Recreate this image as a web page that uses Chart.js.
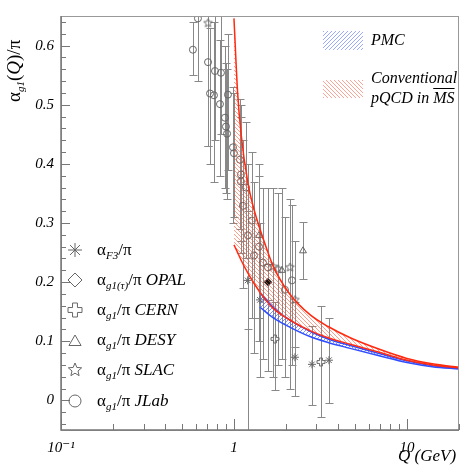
<!DOCTYPE html>
<html>
<head>
<meta charset="utf-8">
<script src="https://cdn.jsdelivr.net/npm/chart.js@4.4.0/dist/chart.umd.min.js"></script>
<style>
body { margin: 0; background: #fff; }
#wrap { position: relative; width: 469px; height: 469px; }
.t { position: absolute; font-family: "Liberation Serif", serif; color: #000; white-space: nowrap; line-height: 1; }
.t i { font-style: italic; }
.t sub { font-size: 11px; font-style: italic; vertical-align: -4px; }
.leg { font-size: 17px; left: 97px; }
.sw { position: absolute; left: 323px; width: 40px; }
#swBlue { top: 31px; height: 19px; background: repeating-linear-gradient(135deg, rgba(70,100,255,0.55) 0 0.9px, rgba(255,255,255,0) 0.9px 2.83px); }
#swRed { top: 80px; height: 18px; background: repeating-linear-gradient(45deg, rgba(255,90,60,0.55) 0 0.9px, rgba(255,255,255,0) 0.9px 2.83px); }
</style>
</head>
<body>
<div id="wrap">
<canvas id="myChart" width="469" height="469"></canvas>
<div class="sw" id="swBlue"></div>
<div class="sw" id="swRed"></div>
<div class="t" style="left:4px;top:102px;font-size:19px;transform:rotate(-90deg);transform-origin:0 0;">α<sub>g1</sub>(<i>Q</i>)/π</div>
<div class="t leg" style="top:241px">α<sub>F3</sub>/π</div>
<div class="t leg" style="top:271px">α<sub>g1(τ)</sub>/π <i>OPAL</i></div>
<div class="t leg" style="top:301px">α<sub>g1</sub>/π <i>CERN</i></div>
<div class="t leg" style="top:331px">α<sub>g1</sub>/π <i>DESY</i></div>
<div class="t leg" style="top:361px">α<sub>g1</sub>/π <i>SLAC</i></div>
<div class="t leg" style="top:392px">α<sub>g1</sub>/π <i>JLab</i></div>
<div class="t" style="left:371px;top:32px;font-size:16px;"><i>PMC</i></div>
<div class="t" style="left:371px;top:70px;font-size:16px;"><i>Conventional</i></div>
<div class="t" style="left:371px;top:90px;font-size:16px;"><i>pQCD in <span style="text-decoration:overline">MS</span></i></div>
<div class="t" style="left:398px;top:447px;font-size:17px;"><i>Q (GeV)</i></div>
</div>
<script>
// conventional pQCD band (red)
var convQ     = [1.0, 1.05, 1.1, 1.2, 1.3, 1.47, 1.68, 2.1, 2.75, 3.5, 4.7, 7, 10, 14, 20];
var convUpper = [0.646, 0.52, 0.45, 0.37, 0.325, 0.275, 0.228, 0.180, 0.145, 0.125, 0.106, 0.086, 0.071, 0.062, 0.056];
var convLower = [0.263, 0.25, 0.237, 0.216, 0.199, 0.176, 0.156, 0.136, 0.118, 0.106, 0.095, 0.081, 0.068, 0.060, 0.055];

// PMC band (blue)
var pmcQ     = [1.41, 1.68, 2.1, 2.75, 3.5, 4.7, 7, 10, 14, 20];
var pmcUpper = [0.183, 0.158, 0.136, 0.117, 0.104, 0.093, 0.079, 0.067, 0.059, 0.054];
var pmcLower = [0.158, 0.140, 0.124, 0.108, 0.098, 0.088, 0.075, 0.064, 0.057, 0.053];

// data points
var jlabQ   = [0.579, 0.619, 0.708, 0.727, 0.766, 0.777, 0.830, 0.841, 0.923, 0.887, 0.899, 0.912, 0.987, 1.0, 1.083, 1.097, 1.097, 1.173, 1.127, 1.270, 1.205, 1.305, 1.471, 1.972, 2.164, 1.396, 1.573];
var jlabVal = [0.593, 0.646, 0.572, 0.519, 0.516, 0.557, 0.501, 0.554, 0.517, 0.478, 0.463, 0.451, 0.428, 0.418, 0.407, 0.382, 0.370, 0.360, 0.329, 0.304, 0.279, 0.245, 0.233, 0.187, 0.203, 0.26, 0.225];
var jlabLo  = [0.55, 0.54, 0.43, 0.40, 0.37, 0.44, 0.38, 0.45, 0.39, 0.36, 0.35, 0.34, 0.30, 0.31, 0.29, 0.27, 0.25, 0.24, 0.19, 0.14, 0.12, 0.08, 0.07, 0.04, 0.06, 0.10, 0.05];
var jlabHi  = [0.64, 0.70, 0.68, 0.63, 0.64, 0.66, 0.61, 0.65, 0.62, 0.60, 0.57, 0.56, 0.53, 0.52, 0.51, 0.50, 0.48, 0.47, 0.44, 0.42, 0.40, 0.37, 0.36, 0.31, 0.33, 0.38, 0.36];

var f3Q   = [1.2, 1.413, 2.252, 2.825, 3.541];
var f3Val = [0.203, 0.17, 0.073, 0.061, 0.068];
var f3Lo  = [-0.10, 0.04, 0.007, -0.007, -0.005];
var f3Hi  = [0.32, 0.30, 0.167, 0.126, 0.14];

var opalQ   = [1.573];
var opalVal = [0.200];
var opalLo  = [0.17];
var opalHi  = [0.23];

var cernQ   = [1.726, 3.184];
var cernVal = [0.104, 0.065];
var cernLo  = [0.018, -0.028];
var cernHi  = [0.167, 0.159];

var desyQ   = [1.396, 1.894, 2.506];
var desyVal = [0.279, 0.220, 0.253];
var desyLo  = [0.14, 0.07, 0.205];
var desyHi  = [0.40, 0.36, 0.302];

var slacQ   = [0.708, 1.681, 2.108, 2.252, 1.800];
var slacVal = [0.638, 0.226, 0.225, 0.170, 0.222];
var slacLo  = [0.43, 0.04, 0.02, 0.09, 0.06];
var slacHi  = [0.70, 0.36, 0.34, 0.27, 0.35];

var xTicks = [0.1, 1, 10];
var yTicks = [0, 0.1, 0.2, 0.3, 0.4, 0.5, 0.6];

var serif = '"Liberation Serif", "DejaVu Serif", serif';
var markColor = '#666';

function pts(qs, vs) {
    return qs.map(function(q, i) { return {x: q, y: vs[i]}; });
}

function hatch(color, back) {
    var c = document.createElement('canvas');
    c.width = 4; c.height = 4;
    var g = c.getContext('2d');
    g.strokeStyle = color;
    g.lineWidth = 1;
    g.beginPath();
    if (back) {
        g.moveTo(-1, -1); g.lineTo(5, 5);
    } else {
        g.moveTo(-1, 5); g.lineTo(5, -1);
    }
    g.stroke();
    return c;
}

function starIcon(r) {
    var s = Math.ceil(r * 2 + 2);
    var c = document.createElement('canvas');
    c.width = s; c.height = s;
    var g = c.getContext('2d');
    g.strokeStyle = markColor; g.lineWidth = 1;
    g.beginPath();
    for (var k = 0; k < 10; k++) {
        var rr = k % 2 ? r * 0.45 : r;
        var a = -Math.PI / 2 + k * Math.PI / 5;
        var px = s / 2 + rr * Math.cos(a), py = s / 2 + rr * Math.sin(a);
        if (k == 0) g.moveTo(px, py); else g.lineTo(px, py);
    }
    g.closePath();
    g.stroke();
    return c;
}

function plusIcon(r) {
    var s = Math.ceil(r * 2 + 2);
    var c = document.createElement('canvas');
    c.width = s; c.height = s;
    var g = c.getContext('2d');
    g.strokeStyle = markColor; g.lineWidth = 1;
    var m = s / 2, w = r * 0.35;
    g.beginPath();
    g.moveTo(m - w, m - r); g.lineTo(m + w, m - r); g.lineTo(m + w, m - w); g.lineTo(m + r, m - w);
    g.lineTo(m + r, m + w); g.lineTo(m + w, m + w); g.lineTo(m + w, m + r); g.lineTo(m - w, m + r);
    g.lineTo(m - w, m + w); g.lineTo(m - r, m + w); g.lineTo(m - r, m - w); g.lineTo(m - w, m - w);
    g.closePath();
    g.stroke();
    return c;
}

var mainCtx = document.getElementById('myChart').getContext('2d');
var redHatch = mainCtx.createPattern(hatch('rgba(255,90,60,0.6)', true), 'repeat');
var blueHatch = mainCtx.createPattern(hatch('rgba(70,100,255,0.7)', false), 'repeat');

function series(qs, vs, lo, hi, style, radius, fill) {
    return {
        type: 'scatter',
        data: pts(qs, vs),
        errLo: lo,
        errHi: hi,
        pointStyle: style,
        pointRadius: radius,
        pointBorderColor: markColor,
        pointBackgroundColor: fill || 'rgba(0,0,0,0)',
        pointBorderWidth: 1
    };
}

var errorBars = {
    id: 'errorBars',
    beforeDatasetsDraw: function(chart) {
        var ctx = chart.ctx, a = chart.chartArea;
        var x = chart.scales.x, y = chart.scales.y;
        ctx.save();
        ctx.beginPath();
        ctx.rect(a.left, a.top, a.right - a.left, a.bottom - a.top);
        ctx.clip();
        ctx.strokeStyle = '#888';
        ctx.lineWidth = 1;
        chart.data.datasets.forEach(function(ds) {
            if (!ds.errLo) return;
            ds.data.forEach(function(p, i) {
                var px = Math.round(x.getPixelForValue(p.x)) + 0.5;
                var y1 = Math.round(y.getPixelForValue(ds.errLo[i])) + 0.5;
                var y2 = Math.round(y.getPixelForValue(ds.errHi[i])) + 0.5;
                ctx.beginPath();
                ctx.moveTo(px, y1); ctx.lineTo(px, y2);
                ctx.moveTo(px - 4, y1); ctx.lineTo(px + 4, y1);
                ctx.moveTo(px - 4, y2); ctx.lineTo(px + 4, y2);
                ctx.stroke();
            });
        });
        ctx.restore();
    }
};

var frame = {
    id: 'frame',
    afterDraw: function(chart) {
        var ctx = chart.ctx, a = chart.chartArea;
        var x = chart.scales.x, y = chart.scales.y;
        ctx.save();
        // frame
        ctx.strokeStyle = '#999';
        ctx.lineWidth = 1;
        ctx.strokeRect(a.left + 0.5, a.top + 0.5, a.right - a.left - 1, a.bottom - a.top);
        ctx.strokeStyle = '#777';
        ctx.lineWidth = 1.5;
        ctx.beginPath();
        ctx.moveTo(a.left, a.top); ctx.lineTo(a.left, a.bottom); ctx.lineTo(a.right, a.bottom);
        ctx.stroke();
        // y ticks
        ctx.lineWidth = 1;
        ctx.beginPath();
        for (var v = -0.04; v <= 0.65; v += 0.02) {
            var py = Math.round(y.getPixelForValue(v)) + 0.5;
            var major = Math.abs(v * 10 - Math.round(v * 10)) < 1e-6;
            ctx.moveTo(a.left, py); ctx.lineTo(a.left + (major ? 9 : 5), py);
        }
        // x ticks
        for (var d = 0.1; d < 20; d *= 10) {
            for (var k = 1; k < 10; k++) {
                var q = d * k;
                if (q > 20) break;
                var px = Math.round(x.getPixelForValue(q)) + 0.5;
                ctx.moveTo(px, a.bottom); ctx.lineTo(px, a.bottom - (k == 1 ? 11 : 6));
            }
        }
        ctx.stroke();

        // legend markers
        var draw = Chart.helpers.drawPoint;
        ctx.strokeStyle = markColor;
        ctx.fillStyle = 'rgba(0,0,0,0)';
        ctx.lineWidth = 1;
        draw(ctx, {pointStyle: 'star', radius: 7, rotation: 0, borderWidth: 1}, 75, 250);
        draw(ctx, {pointStyle: 'rectRot', radius: 7, rotation: 0, borderWidth: 1}, 75, 280);
        ctx.drawImage(plusIcon(7), 75 - 8, 310 - 8);
        draw(ctx, {pointStyle: 'triangle', radius: 7, rotation: 0, borderWidth: 1}, 75, 342);
        ctx.drawImage(starIcon(7), 75 - 8, 370 - 8);
        draw(ctx, {pointStyle: 'circle', radius: 6, rotation: 0, borderWidth: 1}, 75, 401);
        ctx.restore();
    }
};

var ctx = document.getElementById('myChart');
var myChart = new Chart(ctx, {
    type: 'line',
    data: {
        datasets: [
            {
                data: pts(convQ, convUpper),
                borderColor: '#ff2a10',
                borderWidth: 1.5,
                pointRadius: 0,
                cubicInterpolationMode: 'monotone',
                fill: '+1',
                backgroundColor: redHatch
            },
            {
                data: pts(convQ, convLower),
                borderColor: '#ff2a10',
                borderWidth: 1.5,
                pointRadius: 0,
                cubicInterpolationMode: 'monotone',
                fill: false
            },
            {
                data: pts(pmcQ, pmcUpper),
                borderColor: '#2f4dff',
                borderWidth: 1.5,
                pointRadius: 0,
                cubicInterpolationMode: 'monotone',
                fill: '+1',
                backgroundColor: blueHatch
            },
            {
                data: pts(pmcQ, pmcLower),
                borderColor: '#2f4dff',
                borderWidth: 1.5,
                pointRadius: 0,
                cubicInterpolationMode: 'monotone',
                fill: false
            },
            series(jlabQ, jlabVal, jlabLo, jlabHi, 'circle', 3.5),
            series(f3Q, f3Val, f3Lo, f3Hi, 'star', 4),
            series(opalQ, opalVal, opalLo, opalHi, 'rectRot', 4, '#111'),
            series(cernQ, cernVal, cernLo, cernHi, plusIcon(4)),
            series(desyQ, desyVal, desyLo, desyHi, 'triangle', 4),
            series(slacQ, slacVal, slacLo, slacHi, starIcon(4.5))
        ]
    },
    options: {
        responsive: false,
        animation: false,
        layout: { padding: { top: 7, right: 10, left: 0, bottom: 0 } },
        plugins: { legend: { display: false }, tooltip: { enabled: false } },
        scales: {
            x: {
                type: 'logarithmic',
                min: 0.1,
                max: 20,
                grid: { display: false, drawTicks: false },
                border: { display: false },
                afterBuildTicks: function(s) { s.ticks = xTicks.map(function(v) { return {value: v}; }); },
                afterFit: function(s) { s.height = 39; },
                ticks: {
                    autoSkip: false,
                    maxRotation: 0,
                    padding: 9,
                    color: '#000',
                    font: { family: serif, style: 'italic', size: 15 },
                    callback: function(v) { return v == 0.1 ? '10⁻¹' : String(v); }
                }
            },
            y: {
                min: -0.05,
                max: 0.65,
                grid: { display: false, drawTicks: false },
                border: { display: false },
                afterBuildTicks: function(s) { s.ticks = yTicks.map(function(v) { return {value: v}; }); },
                afterFit: function(s) { s.width = 61; },
                ticks: {
                    padding: 7,
                    color: '#000',
                    font: { family: serif, style: 'italic', size: 15 },
                    callback: function(v) { return v == 0 ? '0' : v.toFixed(1); }
                }
            }
        }
    },
    plugins: [errorBars, frame]
});
</script>
</body>
</html>
